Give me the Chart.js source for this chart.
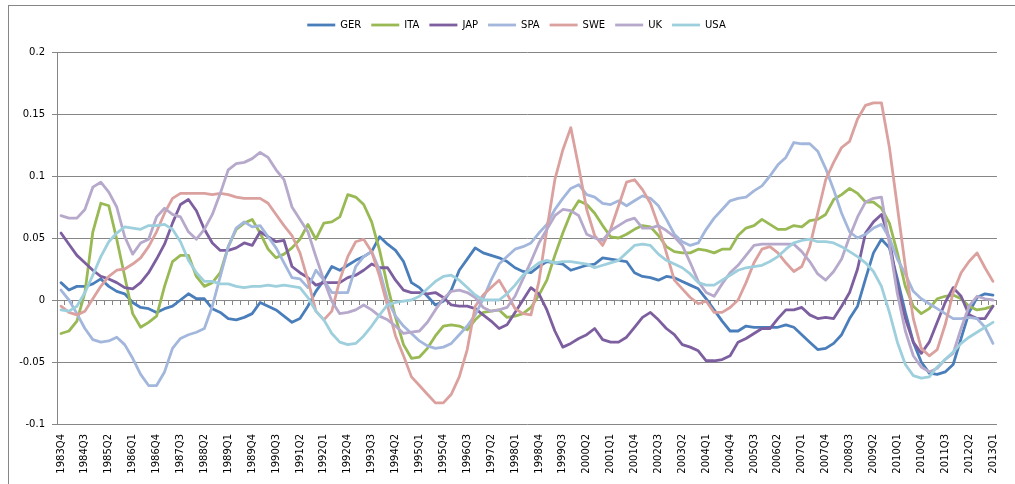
<!DOCTYPE html>
<html>
<head>
<meta charset="utf-8">
<script src="https://cdn.jsdelivr.net/npm/chart.js@4/dist/chart.umd.min.js"></script>
<style>
  html, body { margin: 0; padding: 0; background: #ffffff; }
  #frame { position: absolute; left: 8px; top: 5px; width: 1020px; height: 500px; border: 1px solid #868686; box-sizing: border-box; }
  #wrap { position: absolute; left: 0; top: 0; width: 1015px; height: 484px; }
</style>
</head>
<body>
<div id="frame"></div>
<div id="wrap"><canvas id="c" width="1015" height="484"></canvas></div>
<script>
const quarters = [
  '1983Q4',
  '1984Q1','1984Q2','1984Q3','1984Q4',
  '1985Q1','1985Q2','1985Q3','1985Q4',
  '1986Q1','1986Q2','1986Q3','1986Q4',
  '1987Q1','1987Q2','1987Q3','1987Q4',
  '1988Q1','1988Q2','1988Q3','1988Q4',
  '1989Q1','1989Q2','1989Q3','1989Q4',
  '1990Q1','1990Q2','1990Q3','1990Q4',
  '1991Q1','1991Q2','1991Q3','1991Q4',
  '1992Q1','1992Q2','1992Q3','1992Q4',
  '1993Q1','1993Q2','1993Q3','1993Q4',
  '1994Q1','1994Q2','1994Q3','1994Q4',
  '1995Q1','1995Q2','1995Q3','1995Q4',
  '1996Q1','1996Q2','1996Q3','1996Q4',
  '1997Q1','1997Q2','1997Q3','1997Q4',
  '1998Q1','1998Q2','1998Q3','1998Q4',
  '1999Q1','1999Q2','1999Q3','1999Q4',
  '2000Q1','2000Q2','2000Q3','2000Q4',
  '2001Q1','2001Q2','2001Q3','2001Q4',
  '2002Q1','2002Q2','2002Q3','2002Q4',
  '2003Q1','2003Q2','2003Q3','2003Q4',
  '2004Q1','2004Q2','2004Q3','2004Q4',
  '2005Q1','2005Q2','2005Q3','2005Q4',
  '2006Q1','2006Q2','2006Q3','2006Q4',
  '2007Q1','2007Q2','2007Q3','2007Q4',
  '2008Q1','2008Q2','2008Q3','2008Q4',
  '2009Q1','2009Q2','2009Q3','2009Q4',
  '2010Q1','2010Q2','2010Q3','2010Q4',
  '2011Q1','2011Q2','2011Q3','2011Q4',
  '2012Q1','2012Q2','2012Q3','2012Q4',
  '2013Q1'
];

const GER = [0.014,0.008,0.011,0.011,0.013,0.017,0.011,0.007,0.005,-0.002,
  -0.006,-0.007,-0.010,-0.007,-0.005,0.000,0.005,0.001,0.001,-0.007,
  -0.010,-0.015,-0.016,-0.014,-0.011,-0.002,-0.005,-0.008,-0.013,-0.018,
  -0.015,-0.005,0.007,0.016,0.027,0.024,0.028,0.032,0.035,0.039,
  0.051,0.045,0.040,0.031,0.014,0.010,0.003,-0.004,-0.001,0.008,
  0.024,0.033,0.042,0.038,0.036,0.034,0.031,0.026,0.023,0.022,
  0.027,0.031,0.030,0.029,0.024,0.026,0.028,0.029,0.034,0.033,
  0.032,0.031,0.022,0.019,0.018,0.016,0.019,0.018,0.015,0.012,
  0.009,0.001,-0.008,-0.017,-0.025,-0.025,-0.021,-0.022,-0.022,-0.022,
  -0.022,-0.020,-0.022,-0.028,-0.034,-0.040,-0.039,-0.035,-0.028,-0.015,
  -0.005,0.017,0.038,0.049,0.042,0.017,-0.010,-0.034,-0.050,-0.059,
  -0.060,-0.058,-0.052,-0.031,-0.010,0.002,0.005,0.004];

const ITA = [-0.027,-0.025,-0.017,0.006,0.055,0.078,0.076,0.049,0.019,-0.011,
  -0.022,-0.018,-0.013,0.011,0.031,0.036,0.036,0.019,0.011,0.014,
  0.022,0.043,0.057,0.062,0.065,0.054,0.041,0.034,0.037,0.042,
  0.049,0.061,0.049,0.062,0.063,0.067,0.085,0.083,0.077,0.063,
  0.040,0.011,-0.014,-0.036,-0.047,-0.046,-0.039,-0.029,-0.021,-0.020,
  -0.021,-0.024,-0.016,-0.010,-0.009,-0.008,-0.014,-0.013,-0.011,-0.006,
  0.004,0.016,0.036,0.054,0.070,0.080,0.077,0.070,0.060,0.051,
  0.050,0.053,0.057,0.060,0.059,0.052,0.043,0.039,0.038,0.038,
  0.041,0.040,0.038,0.041,0.041,0.052,0.058,0.060,0.065,0.061,
  0.057,0.057,0.060,0.059,0.064,0.065,0.069,0.081,0.085,0.090,
  0.086,0.079,0.079,0.074,0.062,0.038,0.011,-0.005,-0.011,-0.007,
  0.001,0.003,0.004,0.001,-0.005,-0.008,-0.007,-0.005];

const JAP = [0.054,0.045,0.036,0.030,0.024,0.019,0.017,0.014,0.010,0.009,
  0.014,0.022,0.033,0.045,0.062,0.077,0.081,0.072,0.057,0.046,
  0.040,0.040,0.042,0.046,0.044,0.055,0.051,0.047,0.048,0.027,
  0.022,0.018,0.012,0.014,0.014,0.014,0.018,0.020,0.024,0.029,
  0.026,0.026,0.016,0.008,0.006,0.006,0.005,0.006,0.002,-0.004,
  -0.005,-0.005,-0.007,-0.012,-0.017,-0.023,-0.020,-0.010,0.000,0.010,
  0.005,-0.008,-0.025,-0.038,-0.035,-0.031,-0.028,-0.023,-0.032,-0.034,
  -0.034,-0.030,-0.022,-0.014,-0.010,-0.016,-0.023,-0.028,-0.036,-0.038,
  -0.041,-0.049,-0.049,-0.048,-0.045,-0.034,-0.031,-0.027,-0.023,-0.023,
  -0.015,-0.008,-0.008,-0.006,-0.012,-0.015,-0.014,-0.015,-0.005,0.006,
  0.025,0.054,0.063,0.069,0.049,0.011,-0.015,-0.034,-0.043,-0.034,
  -0.018,-0.002,0.010,0.003,-0.012,-0.015,-0.015,-0.005];

const SPA = [0.008,0.000,-0.011,-0.023,-0.032,-0.034,-0.033,-0.030,-0.036,-0.047,
  -0.060,-0.069,-0.069,-0.058,-0.039,-0.031,-0.028,-0.026,-0.023,-0.005,
  0.019,0.043,0.058,0.063,0.059,0.060,0.051,0.042,0.030,0.018,
  0.017,0.010,0.024,0.016,0.006,0.006,0.006,0.027,0.035,0.039,
  0.024,0.000,-0.013,-0.021,-0.027,-0.033,-0.037,-0.039,-0.038,-0.035,
  -0.028,-0.021,-0.012,0.001,0.016,0.029,0.035,0.041,0.043,0.046,
  0.054,0.061,0.073,0.082,0.090,0.093,0.085,0.083,0.078,0.077,
  0.080,0.076,0.080,0.084,0.082,0.076,0.065,0.053,0.047,0.044,
  0.046,0.057,0.066,0.073,0.080,0.082,0.083,0.088,0.092,0.100,
  0.109,0.115,0.127,0.126,0.126,0.120,0.106,0.089,0.070,0.055,
  0.050,0.053,0.058,0.061,0.050,0.033,0.021,0.007,0.001,-0.003,
  -0.007,-0.011,-0.015,-0.015,-0.014,-0.015,-0.022,-0.035];

const SWE = [-0.005,-0.010,-0.012,-0.009,0.001,0.011,0.019,0.024,0.025,0.029,
  0.034,0.043,0.055,0.070,0.082,0.086,0.086,0.086,0.086,0.085,
  0.086,0.085,0.083,0.082,0.082,0.082,0.078,0.069,0.060,0.052,
  0.038,0.016,-0.009,-0.016,-0.009,0.016,0.035,0.047,0.049,0.039,
  0.019,-0.005,-0.029,-0.045,-0.062,-0.069,-0.076,-0.083,-0.083,-0.076,
  -0.062,-0.040,-0.005,0.004,0.010,0.016,0.005,-0.007,-0.011,-0.012,
  0.015,0.057,0.097,0.121,0.139,0.107,0.073,0.052,0.044,0.057,
  0.076,0.095,0.097,0.089,0.078,0.060,0.038,0.016,0.009,0.002,
  -0.003,-0.001,-0.010,-0.010,-0.006,0.000,0.014,0.030,0.041,0.043,
  0.038,0.030,0.023,0.027,0.043,0.070,0.097,0.111,0.123,0.128,
  0.146,0.157,0.159,0.159,0.123,0.075,0.027,-0.015,-0.039,-0.045,
  -0.040,-0.020,0.006,0.022,0.031,0.038,0.026,0.015];

const UK = [0.068,0.066,0.066,0.073,0.091,0.095,0.087,0.075,0.051,0.037,
  0.046,0.049,0.067,0.074,0.069,0.067,0.055,0.049,0.057,0.069,
  0.086,0.105,0.110,0.111,0.114,0.119,0.115,0.105,0.097,0.075,
  0.065,0.055,0.035,0.016,-0.001,-0.011,-0.010,-0.008,-0.004,-0.008,
  -0.013,-0.016,-0.021,-0.027,-0.026,-0.025,-0.018,-0.008,0.001,0.007,
  0.008,0.006,0.002,-0.006,-0.009,-0.008,-0.006,0.003,0.017,0.031,
  0.046,0.057,0.068,0.073,0.072,0.068,0.053,0.050,0.048,0.056,
  0.060,0.064,0.066,0.058,0.058,0.060,0.056,0.051,0.044,0.030,
  0.015,0.006,0.003,0.013,0.022,0.028,0.036,0.044,0.045,0.045,
  0.045,0.045,0.045,0.039,0.031,0.021,0.016,0.023,0.033,0.051,
  0.067,0.079,0.082,0.083,0.045,0.005,-0.025,-0.045,-0.054,-0.058,
  -0.055,-0.048,-0.043,-0.023,-0.005,0.003,0.001,0.000];

const USA = [-0.008,-0.009,-0.005,0.006,0.020,0.035,0.047,0.054,0.059,0.058,
  0.057,0.060,0.060,0.061,0.057,0.047,0.032,0.022,0.015,0.015,
  0.013,0.013,0.011,0.010,0.011,0.011,0.012,0.011,0.012,0.011,
  0.010,0.002,-0.009,-0.016,-0.027,-0.034,-0.036,-0.035,-0.029,-0.021,
  -0.012,-0.004,-0.002,-0.001,0.000,0.003,0.009,0.015,0.019,0.020,
  0.016,0.010,0.004,0.000,0.000,0.000,0.005,0.012,0.020,0.025,
  0.030,0.032,0.030,0.031,0.031,0.030,0.029,0.026,0.028,0.030,
  0.032,0.038,0.044,0.045,0.044,0.037,0.032,0.029,0.026,0.021,
  0.014,0.012,0.012,0.016,0.020,0.024,0.026,0.027,0.028,0.031,
  0.035,0.041,0.046,0.048,0.049,0.047,0.047,0.046,0.043,0.039,
  0.035,0.030,0.023,0.011,-0.010,-0.034,-0.052,-0.061,-0.063,-0.062,
  -0.054,-0.048,-0.042,-0.035,-0.030,-0.026,-0.022,-0.018];

const seriesNames = ['GER','ITA','JAP','SPA','SWE','UK','USA'];
const seriesValues = [GER, ITA, JAP, SPA, SWE, UK, USA];
const seriesColors = ['#4a7ebb','#98b954','#7d5fa0','#a3b7dc','#dba19f','#b6a9cb','#9ecfdd'];
const yTicks = [-0.1, -0.05, 0, 0.05, 0.1, 0.15, 0.2];

const FONT = 'DejaVu Sans';
const GRID = '#868686';

const legendPlacer = {
  id: 'legendPlacer',
  beforeInit(chart) {
    const fit = chart.legend.fit;
    chart.legend.fit = function () { fit.call(this); this.height += 12; };
  },
  afterLayout(chart) {
    chart.legend.left += 27;
  }
};

const datasets = seriesNames.map((name, i) => ({
  label: name,
  data: seriesValues[i],
  borderColor: seriesColors[i],
  backgroundColor: seriesColors[i],
  borderWidth: 2.8,
  pointRadius: 0,
  pointHoverRadius: 0,
  tension: 0,
  borderJoinStyle: 'round',
  borderCapStyle: 'round',
  fill: false,
  order: seriesNames.length - i
}));

new Chart(document.getElementById('c'), {
  type: 'line',
  data: { labels: quarters, datasets },
  plugins: [legendPlacer],
  options: {
    responsive: false,
    animation: false,
    devicePixelRatio: 1,
    layout: { padding: { left: 0, right: 9, top: 10, bottom: 0 } },
    plugins: {
      tooltip: { enabled: false },
      legend: {
        position: 'top',
        align: 'center',
        labels: {
          usePointStyle: true,
          pointStyle: 'line',
          pointStyleWidth: 28,
          padding: 10,
          color: '#000',
          font: { family: FONT, size: 10 },
          sort: (a, b) => a.datasetIndex - b.datasetIndex
        }
      }
    },
    scales: {
      x: {
        type: 'category',
        position: 'bottom',
        offset: true,
        grid: { display: false, drawTicks: false },
        border: { display: false },
        ticks: {
          autoSkip: false,
          minRotation: 90,
          maxRotation: 90,
          padding: 10,
          color: '#000',
          font: { family: FONT, size: 10 },
          callback: function (v, i) { return i % 3 === 0 ? this.getLabelForValue(v) : ''; }
        },
        afterFit: s => { s.height = 60; }
      },
      x0: {
        type: 'category',
        position: { y: 0 },
        offset: true,
        ticks: { display: false },
        grid: { display: true, drawOnChartArea: false, drawTicks: true, tickLength: 4, offset: true, color: GRID },
        border: { display: true, color: GRID, width: 1 }
      },
      y: {
        min: -0.1,
        max: 0.2,
        afterBuildTicks: s => { s.ticks = yTicks.map(v => ({ value: v })); },
        grid: { color: GRID, lineWidth: 1, drawTicks: true, tickLength: 5 },
        border: { display: true, color: GRID },
        ticks: {
          padding: 7,
          color: '#000',
          font: { family: FONT, size: 10 },
          callback: v => String(+Number(v).toFixed(2))
        },
        afterFit: s => { s.width = 57; }
      }
    }
  }
});
</script>
</body>
</html>
